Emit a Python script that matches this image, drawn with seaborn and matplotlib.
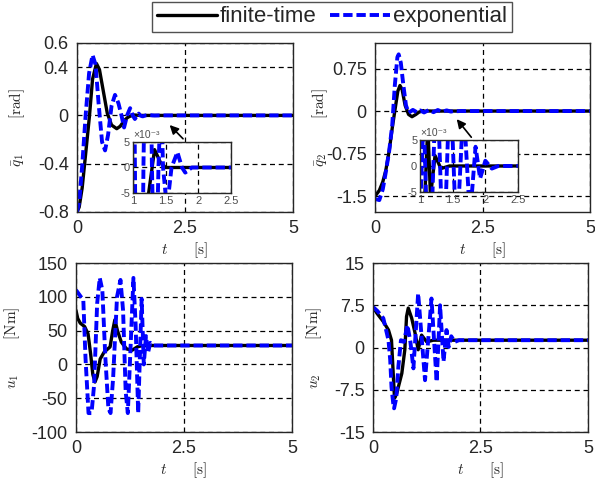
"""Joint tracking errors and torques: finite-time vs exponential controller."""
import matplotlib
matplotlib.use("Agg")
import matplotlib.pyplot as plt
import seaborn as sns
from matplotlib.lines import Line2D

# ---- data ----
# q1 error [rad]
t_q1_ft = [0, 0.05, 0.12, 0.2, 0.29, 0.36, 0.45, 0.52, 0.6, 0.7, 0.8, 0.92, 1.0, 1.1, 1.18,
           1.24, 1.33, 1.42, 1.5, 5.0]
q1_ft = [-0.8, -0.76, -0.6, -0.32, 0.0, 0.3, 0.43, 0.38, 0.22, 0.02, -0.08, -0.11, -0.09,
         -0.04, -0.015, -0.005, 0.0035, 0.001, 0.0, 0.0]
t_q1_exp = [0, 0.05, 0.12, 0.2, 0.28, 0.36, 0.43, 0.5, 0.58, 0.65, 0.72, 0.8, 0.88, 0.96,
            1.03, 1.09, 1.16, 1.23, 1.29, 1.34, 1.39, 1.43, 1.46, 1.52, 1.59, 1.68, 1.75,
            1.8, 1.9, 5.0]
q1_exp = [-0.8, -0.72, -0.42, 0.0, 0.35, 0.5, 0.42, 0.1, -0.22, -0.29, -0.16, 0.08, 0.17,
          0.1, 0.0, -0.1, 0.0, 0.06, 0.0, -0.03, 0.0, 0.015, 0.0, -0.008, 0.0, 0.003, 0.0,
          -0.001, 0.0, 0.0]

# q2 error [rad]
t_q2_ft = [0, 0.1, 0.18, 0.25, 0.33, 0.4, 0.47, 0.53, 0.58, 0.63, 0.7, 0.78, 0.86, 0.95,
           1.02, 1.08, 1.12, 1.16, 1.23, 1.32, 1.45, 5.0]
q2_ft = [-1.5, -1.4, -1.25, -1.05, -0.7, -0.3, 0.05, 0.35, 0.45, 0.38, 0.1, -0.06, -0.1,
         -0.06, -0.02, -0.004, 0.008, -0.006, 0.002, -0.0005, 0.0, 0.0]
t_q2_exp = [0, 0.1, 0.18, 0.25, 0.33, 0.4, 0.46, 0.52, 0.55, 0.6, 0.66, 0.72, 0.78, 0.88,
            0.97, 1.055, 1.14, 1.255, 1.36, 1.46, 1.56, 1.665, 1.765, 1.85, 1.92, 2.0, 2.1,
            2.2, 5.0]
q2_exp = [-1.55, -1.57, -1.38, -1.08, -0.7, -0.25, 0.45, 0.95, 1.0, 0.85, 0.45, 0.1, -0.03,
          0.02, -0.02, 0.01, -0.025, 0.02, -0.02, 0.018, -0.015, 0.012, -0.01, 0.0037,
          -0.0024, 0.001, -0.0005, 0.0, 0.0]

# u1 torque [Nm]
t_u1_ft = [0, 0.04, 0.1, 0.2, 0.28, 0.34, 0.39, 0.44, 0.49, 0.56, 0.65, 0.79, 0.85, 0.9,
           0.96, 1.05, 1.17, 1.3, 1.42, 1.55, 5.0]
u1_ft = [80, 68, 61, 56, 45, 15, -15, -26, -18, 8, 18, 26, 50, 66, 50, 33, 23, 21, 26, 28, 28]
t_u1_exp = [0, 0.08, 0.17, 0.22, 0.29, 0.36, 0.42, 0.49, 0.55, 0.61, 0.68, 0.75, 0.8, 0.86,
            0.95, 1.03, 1.09, 1.15, 1.2, 1.26, 1.33, 1.38, 1.44, 1.52, 1.57, 1.62, 1.67,
            1.72, 1.8, 5.0]
u1_exp = [110, 103, 95, 10, -72, -72, -30, 90, 128, 110, 10, -65, -72, -20, 100, 125, 80,
          -40, -72, 20, 128, 60, -72, 97, 0, 42, 18, 32, 28, 28]

# u2 torque [Nm]
t_u2_ft = [0, 0.09, 0.24, 0.36, 0.43, 0.47, 0.5, 0.55, 0.59, 0.67, 0.74, 0.78, 0.82, 0.9,
           0.98, 1.05, 1.13, 1.25, 1.4, 5.0]
u2_ft = [7.2, 6.1, 4.6, 3.1, 1.3, -4.6, -9.0, -8.2, -7.0, -4.6, -0.4, 5.5, 7.0, 5.2, 2.5,
         -0.4, 2.2, 1.0, 1.3, 1.3]
t_u2_exp = [0, 0.1, 0.24, 0.36, 0.4, 0.43, 0.47, 0.49, 0.54, 0.59, 0.65, 0.72, 0.8, 0.87,
            0.94, 1.05, 1.21, 1.36, 1.48, 1.56, 1.64, 1.71, 1.76, 1.82, 1.9, 2.0, 5.0]
u2_exp = [7.2, 6.5, 5.2, 1.3, -2.2, -7.0, -9.9, -10.8, -9.0, -3.4, 1.3, 1.0, 4.0, 1.0, -3.7,
          9.6, -5.8, 8.7, -6.1, 7.5, -2.5, 3.1, 0.1, 2.0, 1.0, 1.3, 1.3]

x_ticks = [0, 2.5, 5]
x_ticklabels = ["0", "2.5", "5"]
q1_ticks = [-0.8, -0.4, 0, 0.4, 0.6]
q1_ticklabels = ["-0.8", "-0.4", "0", "0.4", "0.6"]
q2_ticks = [-1.5, -0.75, 0, 0.75]
q2_ticklabels = ["-1.5", "-0.75", "0", "0.75"]
u1_ticks = [-100, -50, 0, 50, 100, 150]
u1_ticklabels = ["-100", "-50", "0", "50", "100", "150"]
u2_ticks = [-15, -7.5, 0, 7.5, 15]
u2_ticklabels = ["-15", "-7.5", "0", "7.5", "15"]
inset_xticks = [1, 1.5, 2, 2.5]
inset_xticklabels = ["1", "1.5", "2", "2.5"]
inset_yticks = [-5e-3, 0, 5e-3]
inset_yticklabels = ["-5", "0", "5"]

labels = ["finite-time", "exponential"]

sns.set_theme(style="white")
plt.rcParams["font.family"] = ["Liberation Sans", "DejaVu Sans"]
plt.rcParams["mathtext.fontset"] = "cm"
plt.rcParams["axes.unicode_minus"] = False

FT_KW = dict(color="black", lw=2.4)
EXP_KW = dict(color="#0000ff", lw=2.8, linestyle=(0, (2.4, 1.0)))
GRID_KW = dict(color="black", linestyle=(0, (4, 3)), linewidth=0.9)


def draw(ax, t_ft, v_ft, t_ex, v_ex):
    sns.lineplot(x=t_ft, y=v_ft, ax=ax, estimator=None, **FT_KW)
    sns.lineplot(x=t_ex, y=v_ex, ax=ax, estimator=None, **EXP_KW)


def style(ax, ylim, yticks, yticklabels, ylabel, ylabel_x):
    ax.set_xlim(0, 5)
    ax.set_ylim(*ylim)
    ax.set_xticks(x_ticks, x_ticklabels)
    ax.set_yticks(yticks, yticklabels)
    ax.grid(True, **GRID_KW)
    ax.tick_params(direction="in", length=3, labelsize=13, pad=6, colors="0.15")
    for s in ax.spines.values():
        s.set_color("0.15")
        s.set_linewidth(1.0)
    ax.set_xlabel(r"$t\qquad[\mathrm{s}]$", fontsize=11, labelpad=2)
    ax.set_ylabel(ylabel, fontsize=11)
    ax.yaxis.set_label_coords(ylabel_x, 0.5)


def inset(fig, rect, t_ft, v_ft, t_ex, v_ex):
    axi = fig.add_axes(rect)
    axi.set_facecolor("white")
    draw(axi, t_ft, v_ft, t_ex, v_ex)
    axi.set_xlim(1, 2.5)
    axi.set_ylim(-5e-3, 5e-3)
    axi.set_xticks(inset_xticks, inset_xticklabels)
    axi.set_yticks(inset_yticks, inset_yticklabels)
    axi.grid(True, **GRID_KW)
    axi.tick_params(direction="in", length=2, labelsize=8, pad=2, colors="0.3")
    for s in axi.spines.values():
        s.set_color("0.15")
        s.set_linewidth(1.0)
    axi.set_xlabel("")
    axi.set_ylabel("")
    axi.text(0.0, 1.03, "×10⁻³", transform=axi.transAxes, fontsize=7.5, color="0.3",
             ha="left", va="bottom")
    return axi


fig = plt.figure(figsize=(5.95, 4.82), dpi=100)
ax_q1 = fig.add_axes([0.1294, 0.5602, 0.3630, 0.3506])
ax_q2 = fig.add_axes([0.6303, 0.5602, 0.3613, 0.3506])
ax_u1 = fig.add_axes([0.1277, 0.1037, 0.3630, 0.3506])
ax_u2 = fig.add_axes([0.6269, 0.1037, 0.3613, 0.3506])

draw(ax_q1, t_q1_ft, q1_ft, t_q1_exp, q1_exp)
draw(ax_q2, t_q2_ft, q2_ft, t_q2_exp, q2_exp)
draw(ax_u1, t_u1_ft, u1_ft, t_u1_exp, u1_exp)
draw(ax_u2, t_u2_ft, u2_ft, t_u2_exp, u2_exp)

style(ax_q1, (-0.8, 0.6), q1_ticks, q1_ticklabels,
      r"$\bar{q}_1\qquad\;\;[\mathrm{rad}]$", -0.23)
style(ax_q2, (-1.78, 1.2), q2_ticks, q2_ticklabels,
      r"$\bar{q}_2\qquad\;\;[\mathrm{rad}]$", -0.21)
style(ax_u1, (-100, 150), u1_ticks, u1_ticklabels,
      r"$u_1\qquad\;\;[\mathrm{Nm}]$", -0.25)
style(ax_u2, (-15, 15), u2_ticks, u2_ticklabels,
      r"$u_2\qquad\;\;[\mathrm{Nm}]$", -0.23)

# arrows pointing from the zoom boxes to the settled part
arrow_kw = dict(arrowstyle="-|>", color="black", lw=1.2, mutation_scale=13)
ax_q1.annotate("", xy=(2.1, -0.063), xytext=(2.5, -0.21), arrowprops=arrow_kw)
ax_q2.annotate("", xy=(1.86, -0.105), xytext=(2.28, -0.5), arrowprops=arrow_kw)

inset(fig, [0.2235, 0.5996, 0.1647, 0.1058], t_q1_ft, q1_ft, t_q1_exp, q1_exp)
inset(fig, [0.7059, 0.6017, 0.1647, 0.1079], t_q2_ft, q2_ft, t_q2_exp, q2_exp)

handles = [Line2D([], [], **FT_KW), Line2D([], [], **EXP_KW)]
leg = fig.legend(handles, labels, loc="upper center", bbox_to_anchor=(0.558, 0.996),
                 ncol=2, frameon=True, fancybox=False, edgecolor="0.15", fontsize=16,
                 handlelength=2.7, handletextpad=0.15, columnspacing=0.6, borderpad=0.2,
                 borderaxespad=0)
leg.get_frame().set_linewidth(1.0)

fig.savefig("out.png", dpi=100)
plt.close(fig)
